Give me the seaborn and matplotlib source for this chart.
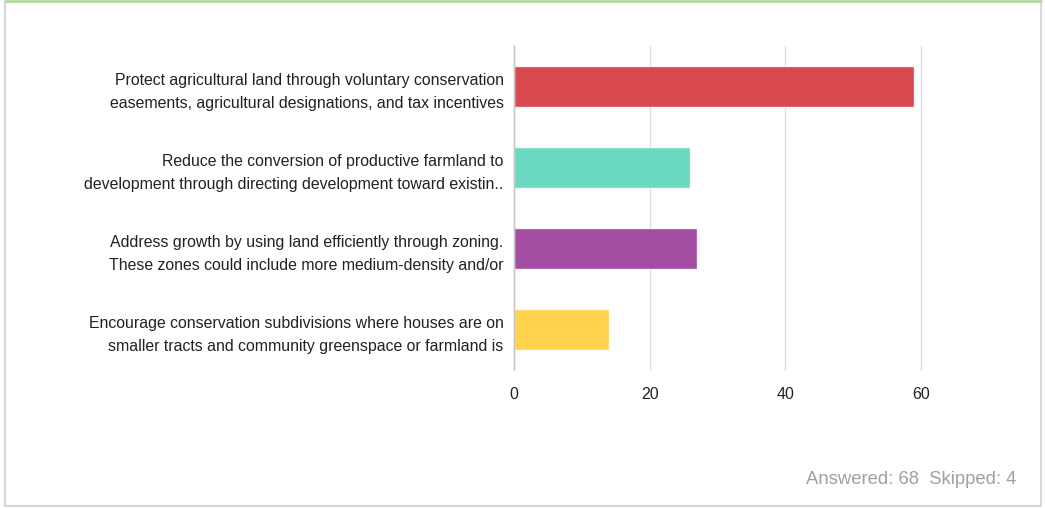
import matplotlib.pyplot as plt
import seaborn as sns
import pandas as pd
from matplotlib.patches import Rectangle
from matplotlib.lines import Line2D

# chart data
answers = [
    "Protect agricultural land through voluntary conservation\neasements, agricultural designations, and tax incentives",
    "Reduce the conversion of productive farmland to\ndevelopment through directing development toward existin..",
    "Address growth by using land efficiently through zoning.\nThese zones could include more medium-density and/or",
    "Encourage conservation subdivisions where houses are on\nsmaller tracts and community greenspace or farmland is",
]
counts = [59, 26, 27, 14]
bar_colors = ["#d4363a", "#5bd4b9", "#9a3b99", "#ffcf39"]
x_ticks = [0, 20, 40, 60]
footer = "Answered: 68  Skipped: 4"

sns.set_style("white")
plt.rcParams['font.family'] = ['Liberation Sans', 'DejaVu Sans']

df = pd.DataFrame({"answer": answers, "count": counts})

fig = plt.figure(figsize=(10.45, 5.08), dpi=100)
ax = fig.add_axes([514 / 1045, 1 - 370 / 508, 407 / 1045, 324 / 508])

ax.grid(axis='x', color='#dedede', linewidth=1)
ax.set_axisbelow(True)
sns.barplot(data=df, x="count", y="answer", hue="answer", palette=bar_colors,
            legend=False, width=0.5, alpha=0.9, saturation=1, ax=ax, orient='h')

ax.set_xlim(0, 60)
ax.set_ylim(3.5, -0.5)
ax.set_xticks(x_ticks)
ax.set_xlabel("")
ax.set_ylabel("")
for side in ['top', 'right', 'bottom']:
    ax.spines[side].set_visible(False)
ax.spines['left'].set_color('#c4c4c4')
ax.spines['left'].set_linewidth(1)

ax.tick_params(axis='y', length=0, pad=7.5, labelsize=11.4, labelcolor='#222222')
ax.tick_params(axis='x', length=0, pad=12, labelsize=11.5, labelcolor='#222222')
for lbl in ax.get_yticklabels():
    lbl.set_linespacing(1.68)
for gl in ax.get_xgridlines():
    gl.set_clip_on(False)

# footer text
fig.text(1016 / 1045, 1 - 480 / 508, footer, ha='right', va='center',
         fontsize=13.3, color='#a0a0a0')

# panel border
fig.patches.append(Rectangle((4.5 / 1045, 2.5 / 508), 1036 / 1045, 504 / 508,
                             transform=fig.transFigure, fill=False,
                             edgecolor='#d8d8d8', linewidth=1.5))
fig.lines.append(Line2D([4.5 / 1045, 1040.5 / 1045], [1 - 1 / 508, 1 - 1 / 508],
                        transform=fig.transFigure, color='#b6dba2', linewidth=2))

fig.savefig("out.png", dpi=100)
